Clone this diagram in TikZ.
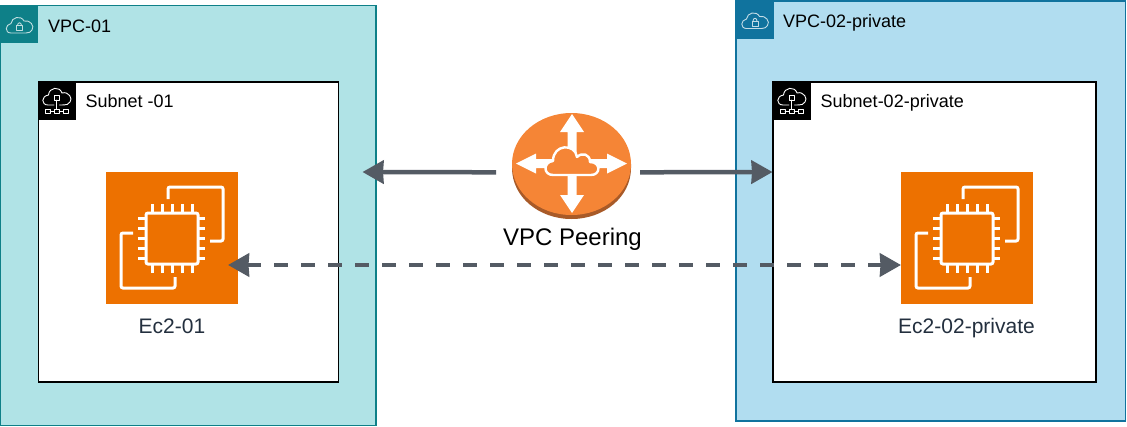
\documentclass[tikz,border=0pt]{standalone}
\usepackage{fontspec}
\setmainfont{Liberation Sans}
\usetikzlibrary{arrows.meta,shapes.geometric}
\definecolor{teal1}{HTML}{0E8088}
\definecolor{teal1f}{HTML}{B0E3E6}
\definecolor{blue1}{HTML}{10739E}
\definecolor{blue1f}{HTML}{B1DDF0}
\definecolor{awsorange}{HTML}{ED7100}
\definecolor{peerorange}{HTML}{F58536}
\definecolor{peerdark}{HTML}{A85A28}
\definecolor{arrowgrey}{HTML}{545B64}
\definecolor{awsink}{HTML}{232F3E}
\tikzset{
  x=1pt,y=-1pt,
  vpcbox/.style={draw=#1,line width=1.2pt,inner sep=0pt,outer sep=0pt,anchor=north west},
  subnetbox/.style={draw=black,fill=white,line width=1.5pt,inner sep=0pt,outer sep=0pt,anchor=north west},
  lab/.style={font=\fontsize{18}{20}\selectfont,anchor=base west,inner sep=0pt,text=black},
  biglab/.style={font=\fontsize{21}{24}\selectfont,anchor=base,inner sep=0pt,text=awsink},
  peerlab/.style={font=\fontsize{24}{28}\selectfont,anchor=base,inner sep=0pt,text=black},
  link/.style={draw=arrowgrey,line width=4.5pt,-{Stealth[length=21pt,width=23pt,inset=0.5pt]}},
  dashlink/.style={draw=arrowgrey,line width=4.5pt,dash pattern=on 13.5pt off 13.5pt,
     {Stealth[length=21pt,width=23pt,inset=0.5pt]}-{Stealth[length=21pt,width=23pt,inset=0.5pt]}},
  ico/.style={draw=white,line width=0.9pt,line join=round,line cap=round},
  pics/vpcicon/.style={code={
    \fill[#1] (0,0) rectangle (38,38);
    \draw[ico,draw=white!75!#1] (11,28) .. controls (4.5,28) and (5,19.5) .. (11,18.5)
      .. controls (11.5,12) and (21,10) .. (24,16)
      .. controls (30,14.5) and (35,21) .. (32,25)
      .. controls (31,27) and (29,28) .. (26,28) -- cycle;
    \draw[ico,draw=white!75!#1] (16.5,20.5) rectangle (22.5,25.5);
    \draw[ico,draw=white!75!#1] (17.5,20.5) .. controls (17.5,17) and (21.5,17) .. (21.5,20.5);
  }},
  pics/subneticon/.style={code={
    \fill[black] (0,0) rectangle (38,38);
    \draw[ico] (16,23) -- (10,23) .. controls (3,23) and (3,14) .. (10.5,13)
      .. controls (11,5) and (22,4) .. (24,11)
      .. controls (31,9) and (35,17) .. (32,20)
      .. controls (31,22.5) and (29,23) .. (21.5,23);
    \draw[ico] (16.5,13.5) rectangle (21,18);
    \draw[ico] (18.7,18) -- (18.7,27);
    \draw[ico] (12,29) -- (16.5,29) (21,29) -- (25.5,29);
    \draw[ico] (7.5,27) rectangle (12,31);
    \draw[ico] (16.5,27) rectangle (21,31);
    \draw[ico] (25.5,27) rectangle (30,31);
  }},
  pics/ec2icon/.style={code={
    \fill[awsorange] (0,0) rectangle (132,132);
    \begin{scope}[draw=white,line width=3pt,line cap=butt]
      \draw[rounded corners=2pt] (62,27) -- (62,15) -- (117,15) -- (117,69) -- (104,69);
      \draw[rounded corners=2pt] (27,61) -- (15,61) -- (15,116) -- (69,116) -- (69,105);
      \draw[rounded corners=2pt] (40,41) rectangle (92,92);
      \foreach \d in {-20,-10,0,10,20}{
        \draw (66+\d,41) -- (66+\d,32);
        \draw (66+\d,92) -- (66+\d,101);
        \draw (40,66.5+\d) -- (32,66.5+\d);
        \draw (92,66.5+\d) -- (99,66.5+\d);
      }
    \end{scope}
  }}
}
\begin{document}
\begin{tikzpicture}
\useasboundingbox (0,0) rectangle (1127,426);
% VPC boxes
\node[vpcbox=teal1,fill=teal1f,minimum width=375.5pt,minimum height=420pt] (vpcA) at (0.5,5.5) {};
\node[vpcbox=blue1,fill=blue1f,minimum width=389.5pt,minimum height=420pt] (vpcB) at (736,1) {};
\pic at (0,5) {vpcicon=teal1};
\pic at (735.5,0.5) {vpcicon=blue1};
\node[lab] (vpcAlab) at (48,32.3) {VPC-01};
\node[lab] (vpcBlab) at (783,27) {VPC-02-private};
% Subnets
\node[subnetbox,minimum width=300pt,minimum height=300pt] (subA) at (38.5,82) {};
\node[subnetbox,minimum width=323pt,minimum height=300pt] (subB) at (773,82) {};
\pic at (38,82) {subneticon};
\pic at (773,82) {subneticon};
\node[lab] (subAlab) at (85.5,107.5) {Subnet -01};
\node[lab] (subBlab) at (820.5,107.5) {Subnet-02-private};
% EC2
\pic at (106,172) {ec2icon};
\pic at (901,172) {ec2icon};
\node[biglab] (ecAlab) at (172,333) {Ec2-01};
\node[biglab] (ecBlab) at (966.5,333) {Ec2-02-private};
% Peering icon
\fill[peerdark] (512,164) -- (512,168) .. controls (512,197) and (539,219) .. (571.5,219)
   .. controls (604,219) and (631,197) .. (631,168) -- (631,164) -- cycle;
\node[ellipse,fill=peerorange,minimum width=119pt,minimum height=102pt,inner sep=0pt,outer sep=0pt] (peer) at (571.5,164) {};
\fill[white] (572,114) -- (584,132) -- (576.5,132) -- (576.5,195) -- (584,195) -- (572,213)
   -- (560,195) -- (567.5,195) -- (567.5,132) -- (560,132) -- cycle;
\fill[white] (516,163.5) -- (536,153.5) -- (536,159) -- (607,159) -- (607,153.5) -- (627,163.5)
   -- (607,173.5) -- (607,168) -- (536,168) -- (536,173.5) -- cycle;
\draw[white,fill=peerorange,line width=2.4pt,line join=round]
   (553,175) .. controls (543,175) and (543,162) .. (553,161)
   .. controls (553,144) and (575,143) .. (577,157)
   .. controls (582,152) and (590,154) .. (590,162)
   .. controls (601,162) and (601,175) .. (591,175) -- cycle;
\node[peerlab] (peerlab) at (572.5,245.5) {VPC Peering};
% Connectors
\coordinate (peerW) at (496,172.3);
\coordinate (vpcAedge) at (362.5,172);
\coordinate (peerE) at (640,172.3);
\coordinate (subBedge) at (772.5,172);
\coordinate (ecAport) at (228,265);
\coordinate (ecBport) at (901,265);
\draw[link] (peerW) -- (vpcAedge);
\draw[link] (peerE) -- (subBedge);
\draw[dashlink] (ecAport) -- (ecBport);
\end{tikzpicture}
\end{document}
